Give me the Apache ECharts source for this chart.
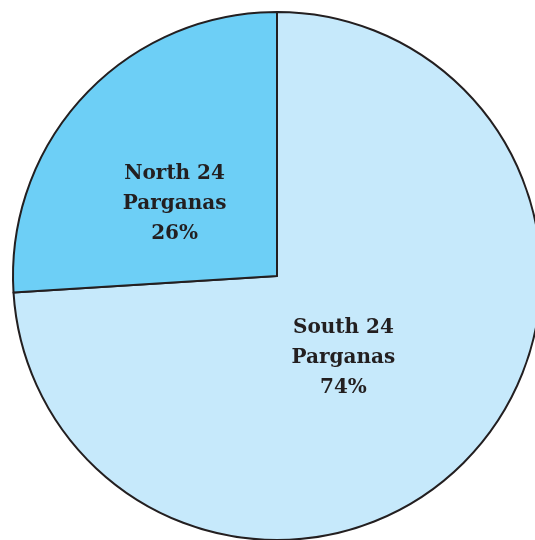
<!DOCTYPE html>
<html><head><meta charset="utf-8">
<script src="https://cdn.jsdelivr.net/npm/echarts@6/dist/echarts.min.js"></script>
<style>html,body{margin:0;padding:0;background:#fff;}#c{width:535px;height:540px;}</style>
</head><body><div id="c"></div>
<script>
const categories = ['South 24\nParganas', 'North 24\nParganas'];
const values = [74, 26];
const colors = ['#c6e9fb', '#6dcff6'];
const labelShift = [[-32, -11], [-4, 20]];

const chart = echarts.init(document.getElementById('c'), null, {renderer: 'canvas'});
chart.setOption({
  animation: false,
  series: [{
    type: 'pie',
    center: [277, 276],
    radius: 264,
    startAngle: 90,
    clockwise: true,
    data: categories.map((n, i) => ({name: n, value: values[i], itemStyle: {color: colors[i]}})),
    itemStyle: {borderColor: '#231f20', borderWidth: 2},
    label: {
      position: 'inside',
      formatter: p => p.name + '\n' + p.value + '%',
      fontFamily: 'DejaVu Serif',
      fontWeight: 'bold',
      fontSize: 20,
      lineHeight: 30,
      color: '#231f20',
      align: 'center'
    },
    labelLine: {show: false},
    labelLayout: p => ({dx: labelShift[p.dataIndex][0], dy: labelShift[p.dataIndex][1]}),
    emphasis: {disabled: true}
  }]
});
</script></body></html>
